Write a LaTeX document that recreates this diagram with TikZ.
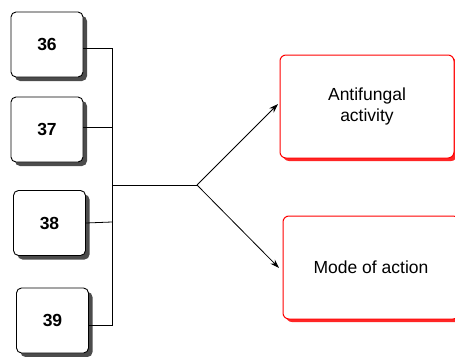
\documentclass[tikz,border=0pt]{standalone}
\usepackage{fontspec}
\setmainfont{Liberation Sans}
\usetikzlibrary{arrows.meta,shadows}
\begin{document}
\begin{tikzpicture}[x=1pt,y=-1pt,
  numbox/.style={draw=black,line width=0.9pt,fill=white,rounded corners=5pt,
    minimum width=72pt,minimum height=65pt,inner sep=0pt,
    font=\fontsize{17.5}{20}\selectfont\bfseries,
    drop shadow={shadow xshift=4pt,shadow yshift=-4pt,fill=black!70,opacity=1,rounded corners=5pt}},
  outbox/.style={draw=red,line width=1pt,fill=white,rounded corners=6pt,
    minimum width=174pt,minimum height=103pt,inner sep=0pt,align=center,
    font=\fontsize{17.5}{21}\selectfont,
    drop shadow={shadow xshift=3pt,shadow yshift=-3pt,fill=red!85,opacity=1,rounded corners=6pt}},
  link/.style={draw=black,line width=0.8pt},
  arr/.style={draw=black,line width=0.8pt,-{Stealth[length=9pt,width=6pt]}}]
\useasboundingbox (0,0) rectangle (455,356);

% input boxes
\node[numbox] (b36) at (47,44.5) {36};
\node[numbox] (b37) at (47,129.5) {37};
\node[numbox] (b38) at (49.5,223) {38};
\node[numbox] (b39) at (52.5,320.5) {39};

% output boxes
\node[outbox] (act) at (367,106.5) {Antifungal\\activity};
\node[outbox,minimum width=176pt] (mode) at (371,267.5) {Mode of action};

% collecting bus
\coordinate (top) at (112,48);
\coordinate (bot) at (112,325);
\coordinate (mid) at (112,185);
\coordinate (fork) at (197,185);
\coordinate (tipA) at (278,104);
\coordinate (tipB) at (279,268);

\draw[link] (b36.east |- top) -- (top) -- (bot) -- (b39.east |- bot);
\draw[link] (b37.east) ++(0,-2.5) -- (112,127);
\draw[link] (b38.east) -- (112,222);
\draw[link] (mid) -- (fork);
\draw[arr] (fork) -- (tipA);
\draw[arr] (fork) -- (tipB);
\end{tikzpicture}
\end{document}
